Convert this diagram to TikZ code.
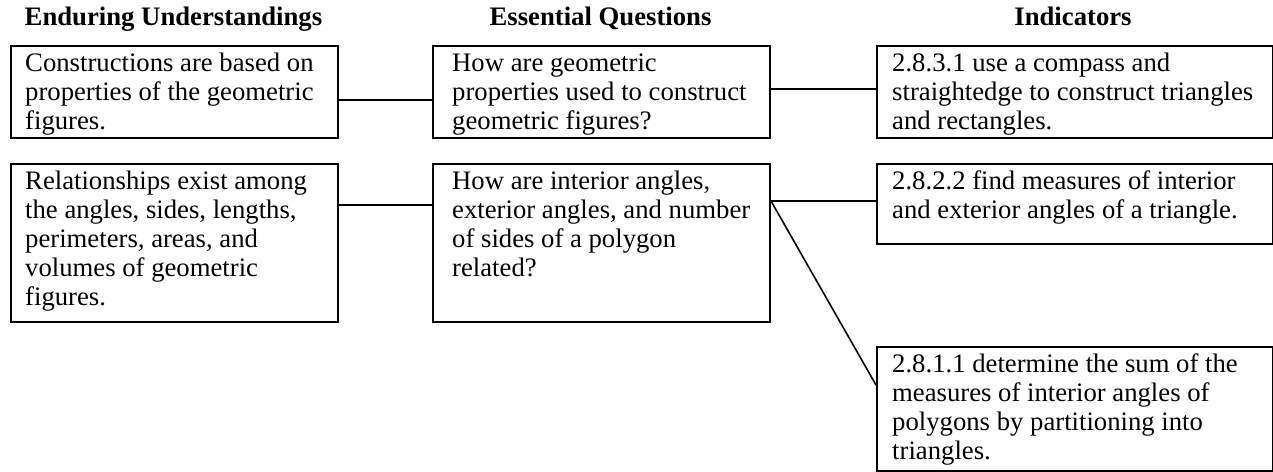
\documentclass[tikz,border=0pt]{standalone}
\usepackage{fontspec}
\setmainfont{Liberation Serif}
\usetikzlibrary{calc}
\tikzset{
  boxnode/.style={draw, line width=2pt, rectangle, inner sep=0pt, anchor=north west},
  txtnode/.style={inner sep=0pt, anchor=base west, font=\fontsize{26.7}{29.2}\selectfont},
  headnode/.style={inner sep=0pt, anchor=base, font=\fontsize{26.7}{29.2}\selectfont\bfseries},
  link/.style={line width=1.6pt}
}
\newcommand{\boxtext}[1]{\parbox[t]{420pt}{\raggedright #1}}
\begin{document}
\begin{tikzpicture}[x=1pt,y=-1pt]
\useasboundingbox (0,0) rectangle (1273,471);
% headers
\node[headnode] (h1) at (173.5,25) {Enduring Understandings};
\node[headnode] (h2) at (600.5,25) {Essential Questions};
\node[headnode] (h3) at (1073,25) {Indicators};
% boxes
\node[boxnode, minimum width=327pt, minimum height=92pt] (eu1) at (10,45) {};
\node[boxnode, minimum width=337pt, minimum height=92pt] (eq1) at (432,45) {};
\node[boxnode, minimum width=396pt, minimum height=92pt] (i1) at (876,45) {};
\node[boxnode, minimum width=327pt, minimum height=158pt] (eu2) at (10,163) {};
\node[boxnode, minimum width=337pt, minimum height=158pt] (eq2) at (432,163) {};
\node[boxnode, minimum width=396pt, minimum height=80pt] (i2) at (876,163) {};
\node[boxnode, minimum width=396pt, minimum height=124pt] (i3) at (876,346) {};
% texts
\node[txtnode] (eu1t) at ($(eu1.north west)+(15,26)$) {\boxtext{Constructions are based on\\properties of the geometric\\figures.}};
\node[txtnode] (eq1t) at ($(eq1.north west)+(20,26)$) {\boxtext{How are geometric\\properties used to construct\\geometric figures?}};
\node[txtnode] (i1t) at ($(i1.north west)+(16,26)$) {\boxtext{2.8.3.1 use a compass and\\straightedge to construct triangles\\and rectangles.}};
\node[txtnode] (eu2t) at ($(eu2.north west)+(15,26)$) {\boxtext{Relationships exist among\\the angles, sides, lengths,\\perimeters, areas, and\\volumes of geometric\\figures.}};
\node[txtnode] (eq2t) at ($(eq2.north west)+(20,26)$) {\boxtext{How are interior angles,\\exterior angles, and number\\of sides of a polygon\\related?}};
\node[txtnode] (i2t) at ($(i2.north west)+(16,26)$) {\boxtext{2.8.2.2 find measures of interior\\and exterior angles of a triangle.}};
\node[txtnode] (i3t) at ($(i3.north west)+(16,26)$) {\boxtext{2.8.1.1 determine the sum of the\\measures of interior angles of\\polygons by partitioning into\\triangles.}};
% connectors
\draw[link] (eu1.east |- 0,100) -- (eq1.west |- 0,100);
\draw[link] (eq1.east |- 0,89) -- (i1.west |- 0,89);
\draw[link] (eu2.east |- 0,205) -- (eq2.west |- 0,205);
\coordinate (eq2out) at (eq2.east |- 0,201);
\draw[link] (eq2out) -- (i2.west |- 0,201);
\draw[link] (eq2out) -- (i3.west |- 0,385);
\end{tikzpicture}
\end{document}
